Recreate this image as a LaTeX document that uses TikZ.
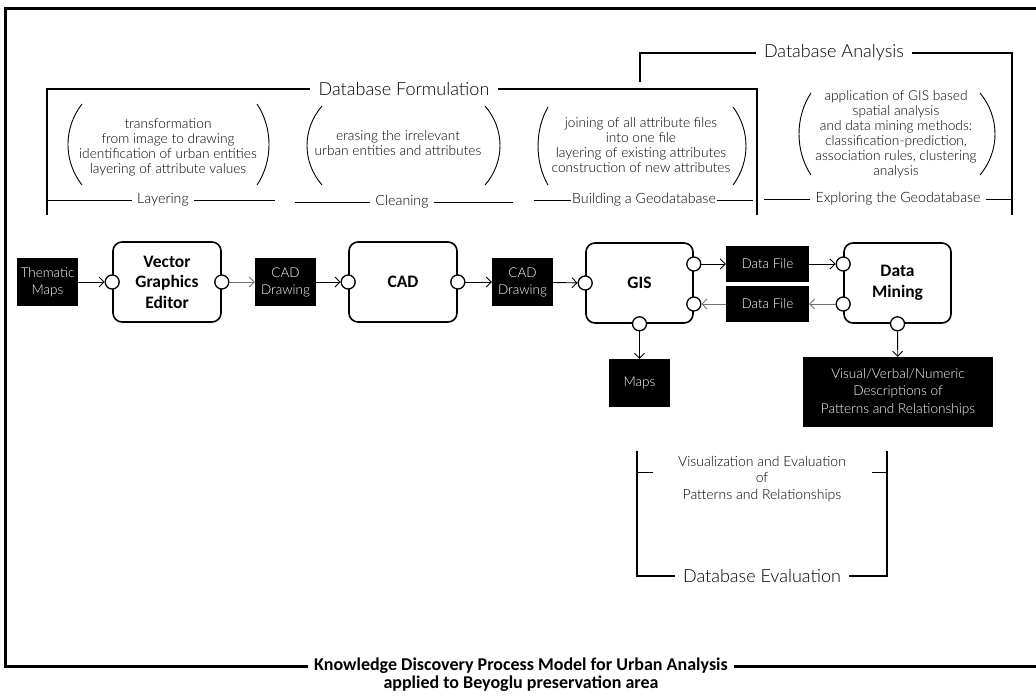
\documentclass[tikz,border=0pt]{standalone}
\usepackage{fontspec}
\setmainfont{Carlito}
\newfontfamily\lightfont{Lato}[UprightFont={* Light}]
\usetikzlibrary{arrows.meta}

\tikzset{
  proc/.style={draw, line width=1.6pt, rounded corners=9pt, fill=white,
    minimum width=108pt, minimum height=80pt, align=center, inner sep=0pt,
    font=\fontsize{17.5}{20.5}\selectfont\bfseries},
  datab/.style={fill=black, text=white, align=center, inner sep=0pt,
    font=\lightfont\fontsize{13.5}{17}\selectfont},
  port/.style={circle, draw, line width=1.3pt, fill=white, minimum size=14pt, inner sep=0pt},
  arr/.style={-{Straight Barb[length=5pt,width=10pt]}, line width=0.9pt},
  arrg/.style={arr, draw=black!55},
  head/.style={font=\lightfont\fontsize{18}{22}\selectfont, inner xsep=8pt, inner ysep=0pt},
  sub/.style={font=\lightfont\fontsize{14.2}{17}\selectfont, inner xsep=5pt, inner ysep=0pt},
  note/.style={font=\lightfont\fontsize{13.7}{15}\selectfont, align=center, inner sep=0pt},
  titlef/.style={font=\fontsize{18}{20}\selectfont\bfseries, inner xsep=6pt, inner ysep=0pt},
  brk/.style={line width=1.8pt},
  thin/.style={line width=0.9pt},
  frame/.style={line width=3pt},
}

\begin{document}
\begin{tikzpicture}[x=1pt,y=-1pt]
\useasboundingbox (0,0) rectangle (1036,697);

% outer frame with the caption set into its lower edge
\node[titlef] (ttl1) at (521,666) {Knowledge Discovery Process Model for Urban Analysis};
\node[titlef] (ttl2) at (521,684) {applied to Beyoglu preservation area};
\draw[frame] (ttl1.west) -- (5.5,666) -- (5.5,8) -- (1045,8);
\draw[frame] (ttl1.east) -- (1045,666);

% Database Formulation bracket
\node[head] (dbf) at (404,89) {Database Formulation};
\draw[brk] (dbf.west) -- (47,89) -- (47,215);
\draw[brk] (dbf.east) -- (757,89) -- (757,215);

% Database Analysis bracket
\node[head] (dba) at (834,53) {Database Analysis};
\draw[brk] (dba.west) -- (640,53) -- (640,82);
\draw[brk] (dba.east) -- (1012,53) -- (1012,215);

% stage labels
\node[sub] (lay) at (163,200) {Layering};
\draw[thin] (47,200) -- (lay.west);  \draw[thin] (lay.east) -- (275,200);
\node[sub] (cln) at (402,202) {Cleaning};
\draw[thin] (295,202) -- (cln.west); \draw[thin] (cln.east) -- (513,202);
\node[sub, inner xsep=1pt] (bld) at (644,200) {Building a Geodatabase};
\draw[thin] (534,200) -- (bld.west); \draw[thin] (bld.east) -- (753,200);
\node[sub] (exp) at (898,199) {Exploring the Geodatabase};
\draw[thin] (764,199) -- (exp.west); \draw[thin] (exp.east) -- (1012,199);

% stage descriptions in parentheses
\node[note] (n1) at (168,147) {transformation\\from image to drawing\\identification of urban entities\\layering of attribute values};
\draw[thin] (82,104) .. controls (63.3,128) and (63.3,161) .. (82,185);
\draw[thin] (257,104) .. controls (273,128) and (273,161) .. (257,185);

\node[note] (n2) at (398,143) {erasing the irrelevant\\urban entities and attributes};
\draw[thin] (322,106) .. controls (302,129) and (302,162) .. (322,185);
\draw[thin] (485,106) .. controls (505,129) and (505,162) .. (485,185);

\node[note] (n3) at (641,145) {joining of all attribute files\\into one file\\layering of existing attributes\\construction of new attributes};
\draw[thin] (548,107) .. controls (534.7,130) and (534.7,162) .. (548,185);
\draw[thin] (733,107) .. controls (750.3,130) and (750.3,162) .. (733,185);

\node[note] (n4) at (896,134.5) {application of GIS based\\spatial analysis\\and data mining methods:\\classification-prediction,\\association rules, clustering\\analysis};
\draw[thin] (811,93) .. controls (795,117) and (795,151) .. (811,175);
\draw[thin] (980,93) .. controls (1000,117) and (1000,151) .. (980,175);

% Database Evaluation bracket
\node[head] (dbe) at (762,576) {Database Evaluation};
\draw[brk] (dbe.west) -- (637,576) -- (637,451);
\draw[brk] (dbe.east) -- (887,576) -- (887,451);
\draw[thin] (637,472) -- (653,472);
\draw[thin] (872,472) -- (887,472);
\node[note, font=\lightfont\fontsize{14}{16.5}\selectfont] (vze) at (762,479) {Visualization and Evaluation\\of\\Patterns and Relationships};

% process row
\node[datab, minimum width=61pt, minimum height=48pt] (thm) at (47.5,282) {Thematic\\Maps};
\node[proc] (vge) at (167,282) {Vector\\Graphics\\Editor};
\node[datab, minimum width=61pt, minimum height=48pt] (cd1) at (285.5,282) {CAD\\Drawing};
\node[proc] (cad) at (403,282) {CAD};
\node[datab, minimum width=61pt, minimum height=48pt] (cd2) at (522.5,282) {CAD\\Drawing};
\node[proc, minimum width=107pt] (gis) at (639.5,283) {GIS};
\node[datab, minimum width=83pt, minimum height=36pt] (df1) at (767.5,264) {Data File};
\node[datab, minimum width=83pt, minimum height=36pt] (df2) at (767.5,304) {Data File};
\node[proc, minimum width=107pt] (dm) at (897.5,283) {Data\\Mining};
\node[datab, minimum width=61pt, minimum height=48pt] (maps) at (639.5,383) {Maps};
\node[datab, minimum width=190pt, minimum height=70pt, font=\lightfont\fontsize{13.6}{17.5}\selectfont] (vis) at (898,392) {Visual/Verbal/Numeric\\Descriptions of\\Patterns and Relationships};

% ports
\node[port] (vgeL) at (vge.west) {};
\node[port] (vgeR) at (vge.east) {};
\node[port] (cadL) at (cad.west) {};
\node[port] (cadR) at (cad.east) {};
\node[port] (gisL) at (gis.west) {};
\node[port] (gisRT) at (gis.east |- df1) {};
\node[port] (gisRB) at (gis.east |- df2) {};
\node[port] (gisB) at (gis.south) {};
\node[port] (dmLT) at (dm.west |- df1) {};
\node[port] (dmLB) at (dm.west |- df2) {};
\node[port] (dmB) at (dm.south) {};

% flows
\draw[arr] (thm) -- (vgeL);
\draw[arrg] (vgeR) -- (cd1);
\draw[arr] (cd1) -- (cadL);
\draw[arr] (cadR) -- (cd2);
\draw[arr] (cd2) -- (gisL);
\draw[arr] (gisRT) -- (df1);
\draw[arr] (df1) -- (dmLT);
\draw[arrg] (dmLB) -- (df2);
\draw[arrg] (df2) -- (gisRB);
\draw[arr] (gisB) -- (maps);
\draw[arr] (dmB) -- (vis);
\end{tikzpicture}
\end{document}
